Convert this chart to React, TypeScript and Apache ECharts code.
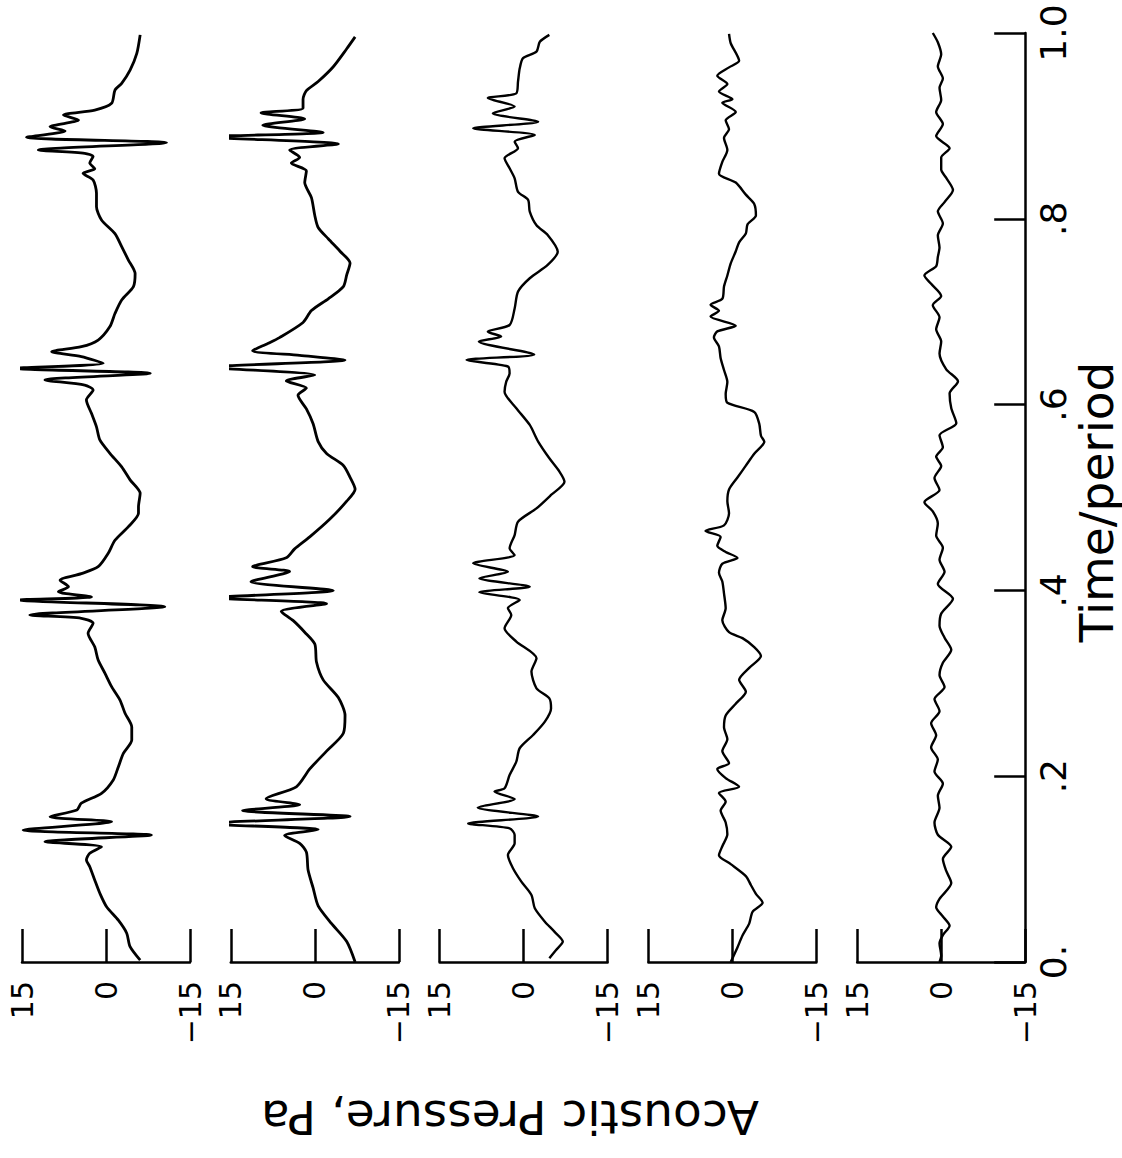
import React, { useEffect, useRef } from "react";
import * as echarts from "echarts";

// [time/period, acoustic pressure Pa] for each of the five stacked traces (top panel first = left)
const trace1: [number, number][] = [
  [0.002,-6.1],[0.0165,-4.3],[0.031,-3.7],[0.045,-2.2],[0.0595,-0.1],[0.074,1.1],[0.088,2.0],[0.1026,2.9],[0.1098,3.5],[0.117,2.9],[0.124,0.8],[0.1295,10.9],[0.1367,-8.1],[0.142,14.8],[0.151,-1.0],[0.1564,10.0],[0.1636,5.2],[0.171,4.4],[0.1816,0.8],[0.196,-1.3],[0.21,-2.2],[0.2246,-3.1],[0.239,-4.6],[0.253,-4.6],[0.2677,-3.4],[0.282,-2.5],[0.2964,-1.0],[0.311,0.2],[0.325,1.4],[0.339,2.0],[0.354,3.2],[0.3646,2.3],[0.37,4.4],[0.3735,13.6],[0.3825,-10.5],[0.3897,15.7],[0.393,2.6],[0.3986,8.5],[0.404,6.7],[0.411,8.2],[0.418,4.4],[0.4255,1.4],[0.44,-0.4],[0.454,-1.6],[0.4686,-4.0],[0.483,-5.8],[0.49,-5.8],[0.5045,-6.1],[0.519,-4.3],[0.533,-2.8],[0.5476,-0.7],[0.562,1.1],[0.576,1.7],[0.5906,2.6],[0.605,3.5],[0.6157,2.3],[0.621,3.8],[0.6265,10.9],[0.6337,-7.9],[0.639,16.3],[0.6444,0.5],[0.6516,4.4],[0.657,9.7],[0.6623,4.4],[0.6695,1.4],[0.684,-0.7],[0.698,-1.6],[0.7126,-2.8],[0.727,-4.9],[0.741,-5.2],[0.7556,-4.0],[0.77,-2.8],[0.784,-1.6],[0.7987,0.8],[0.813,1.7],[0.8275,1.7],[0.8418,2.3],[0.849,4.1],[0.854,2.0],[0.86,2.9],[0.867,2.3],[0.8705,3.8],[0.874,12.1],[0.882,-10.8],[0.8877,14.2],[0.8945,7.3],[0.899,10.0],[0.9063,4.9],[0.9117,7.6],[0.917,2.0],[0.9243,-1.0],[0.9386,-1.6],[0.9458,-2.8],[0.96,-4.3],[0.978,-5.5],[0.998,-6.1]
];
const trace2: [number, number][] = [
  [0.0,-7.2],[0.022,-5.7],[0.0413,-3.0],[0.0605,-0.6],[0.0797,0.3],[0.099,1.2],[0.1182,1.5],[0.1278,2.7],[0.1361,5.4],[0.1425,-0.6],[0.1489,19.2],[0.1566,-6.3],[0.163,12.9],[0.1694,2.7],[0.1758,8.7],[0.1886,3.3],[0.2078,0.9],[0.227,-2.1],[0.2462,-5.1],[0.2654,-5.4],[0.2846,-4.2],[0.3037,-1.5],[0.3229,-0.3],[0.3422,0],[0.355,1.8],[0.3677,3.9],[0.3774,6.0],[0.3857,-2.1],[0.392,18.0],[0.3998,-3.3],[0.4094,11.4],[0.4204,4.5],[0.4255,11.1],[0.4351,5.1],[0.4447,3.6],[0.4576,0.9],[0.4768,-2.7],[0.496,-5.7],[0.5089,-7.2],[0.5217,-6.3],[0.5345,-5.1],[0.5474,-2.1],[0.5602,-0.6],[0.5794,0.3],[0.5953,1.5],[0.61,3.0],[0.6178,1.5],[0.6255,5.1],[0.6319,0],[0.6402,18.3],[0.6479,-5.4],[0.653,2.7],[0.658,11.1],[0.6657,8.4],[0.6721,6.3],[0.6884,2.1],[0.7012,0.6],[0.7139,-2.4],[0.727,-5.1],[0.7396,-5.7],[0.7524,-6.3],[0.7651,-4.5],[0.7785,-2.4],[0.7907,-0.6],[0.8036,0],[0.8228,0.6],[0.839,1.8],[0.8515,1.5],[0.86,4.2],[0.866,2.7],[0.874,4.5],[0.8805,-4.2],[0.8882,19.2],[0.893,-1.5],[0.9008,9.3],[0.9075,1.8],[0.914,9.6],[0.919,2.1],[0.9285,2.1],[0.938,1.5],[0.9478,-0.6],[0.9637,-3.3],[0.983,-5.7],[0.9958,-7.2]
];
const trace3: [number, number][] = [
  [0.004,-4.6],[0.013,-5.8],[0.022,-7.0],[0.0327,-5.5],[0.0434,-3.8],[0.0578,-2.0],[0.0722,-1.4],[0.0865,0.4],[0.1009,1.9],[0.1152,2.8],[0.1278,1.6],[0.1367,1.6],[0.1439,2.5],[0.1492,9.9],[0.1565,-2.6],[0.1662,8.2],[0.1754,1.6],[0.1834,5.2],[0.187,3.4],[0.2013,2.5],[0.2157,1.3],[0.2301,0.7],[0.2444,-1.7],[0.2588,-3.8],[0.273,-4.9],[0.2838,-4.6],[0.2946,-2.3],[0.3126,-1.4],[0.3269,-2.3],[0.3449,1.3],[0.3592,3.4],[0.3736,2.2],[0.3808,2.8],[0.3897,0.7],[0.398,7.9],[0.404,-1.1],[0.413,7.9],[0.42,2.8],[0.4291,9.0],[0.438,1.6],[0.4453,2.5],[0.4596,1.6],[0.474,1.0],[0.4883,-2.3],[0.5027,-4.9],
  [0.517,-7.3],[0.5279,-6.4],[0.5422,-4.6],[0.5602,-2.6],[0.5781,-1.1],[0.5961,1.3],[0.6139,3.4],[0.6247,3.1],[0.6336,2.5],[0.641,2.8],[0.648,10.2],[0.654,-1.9],[0.6678,8.0],[0.6733,4.0],[0.6785,6.4],[0.6857,2.5],[0.7035,1.6],[0.7216,1.0],[0.736,-1.1],[0.7503,-4.3],[0.7646,-6.1],[0.7826,-4.3],[0.793,-2.3],[0.8077,-1.1],[0.8204,-0.8],[0.829,1.0],[0.8436,1.6],[0.8544,2.5],[0.8651,3.4],[0.876,1.0],[0.883,1.6],[0.8903,-2.0],[0.8974,9.0],[0.9045,-2.6],[0.9135,5.5],[0.9209,1.6],[0.93,6.4],[0.935,1.3],[0.9476,1.0],[0.9617,0.7],[0.973,0.1],[0.98,-2.3],[0.9906,-2.9],[0.998,-4.6]
];
const trace4: [number, number][] = [
  [0.0,0.3],[0.0157,-0.9],[0.0285,-1.8],[0.0413,-3.0],[0.054,-3.6],[0.0637,-5.4],[0.0733,-4.2],[0.0829,-3.3],[0.0925,-2.4],[0.1054,0.3],[0.115,2.4],[0.1246,1.8],[0.1374,0.9],[0.1502,1.2],[0.163,2.1],[0.1726,1.2],[0.182,2.4],[0.1886,-1.2],[0.198,1.2],[0.2078,2.7],[0.214,0.6],[0.227,1.8],[0.2398,0.9],[0.2526,1.5],[0.2654,1.2],[0.278,-0.6],[0.291,-2.4],[0.3037,-1.2],[0.3166,-3.0],[0.3294,-5.1],[0.339,-3.9],[0.3486,-1.8],[0.355,0.6],[0.3678,1.8],[0.3807,1.2],[0.3967,1.5],[0.4095,1.8],[0.419,2.4],[0.4287,1.8],[0.435,-0.9],[0.4414,1.2],[0.448,2.7],[0.4575,2.1],[0.464,4.8],[0.47,1.5],[0.483,0.6],[0.496,0.9],[0.5087,0.6],[0.5215,-0.9],[0.5343,-2.4],[0.5471,-3.9],[0.56,-5.7],[0.5665,-5.1],[0.5793,-4.8],[0.5921,-3.9],[0.602,0.9],[0.6115,1.2],[0.6243,0.9],[0.6372,1.5],[0.65,2.1],[0.6627,2.4],[0.6723,3.3],[0.6788,2.7],[0.685,-0.6],[0.6948,3.9],[0.701,2.4],[0.7075,3.9],[0.7139,1.8],[0.727,1.5],[0.739,0.9],[0.752,0.3],[0.765,-0.6],[0.7747,-1.2],[0.7842,-2.4],[0.794,-2.7],[0.8036,-4.2],[0.816,-3.9],[0.826,-2.4],[0.839,-0.6],[0.8486,2.4],[0.8612,1.8],[0.8741,0.9],[0.887,1.5],[0.8964,0.6],[0.906,1.2],[0.915,-0.6],[0.925,1.8],[0.9286,0],[0.937,2.4],[0.945,0.9],[0.954,2.7],[0.963,0.6],[0.97,-1.2],[0.989,0.3],[0.999,0.6]
];
const trace5: [number, number][] = [
  [0.0,0.3],[0.007,0],[0.02,0.3],[0.029,-0.3],[0.039,-1.5],[0.049,-0.3],[0.059,0.9],[0.068,0.3],[0.085,-1.8],[0.098,-0.9],[0.111,-0.3],[0.124,-1.8],[0.137,0.6],[0.15,1.2],[0.166,0.3],[0.179,0.6],[0.192,-0.3],[0.205,1.2],[0.218,0.6],[0.231,1.8],[0.244,0.9],[0.257,1.8],[0.27,0.3],[0.283,1.2],[0.296,-0.6],[0.309,0.3],[0.322,-0.3],[0.336,-1.8],[0.349,-0.6],[0.362,0.3],[0.375,0],[0.391,-2.1],[0.407,0.6],[0.42,-0.6],[0.433,0.3],[0.446,-0.3],[0.459,0.9],[0.472,0.6],[0.485,1.5],[0.495,3.0],[0.508,0.3],[0.521,1.2],[0.534,0],[0.544,0.9],[0.554,-0.3],[0.567,0.3],[0.58,-2.7],[0.596,-1.8],[0.612,-1.5],[0.625,-3.0],[0.638,-0.9],[0.655,0.3],[0.668,0],[0.681,0.9],[0.694,0.3],[0.707,1.5],[0.717,0],[0.73,1.8],[0.739,3.0],[0.749,0.9],[0.759,0.6],[0.769,0.3],[0.782,0.6],[0.795,-0.3],[0.808,0.6],[0.818,-0.6],[0.831,-2.1],[0.844,-0.9],[0.853,0],[0.866,0],[0.876,-1.5],[0.889,0.9],[0.902,-0.3],[0.915,0.9],[0.928,0],[0.941,0.3],[0.951,-0.3],[0.964,0.6],[0.977,0],[0.99,0.6],[1.0,1.5]
];

const traces = [trace1, trace2, trace3, trace4, trace5];
const pressureTicks = [-15, 0, 15];
const timeTickLabels = ["0.", ".2", ".4", ".6", ".8", "1.0"];
const timeTitle = "Time/period";
const pressureTitle = "Acoustic Pressure, Pa";

const FONT = "DejaVu Sans";
const PANEL_LEFT0 = 22;
const PANEL_STEP = 208.8;
const PANEL_W = 168;
const PLOT_TOP = 33;
const PLOT_H = 929;

export default function App() {
  const ref = useRef<HTMLDivElement>(null);
  useEffect(() => {
    if (!ref.current) return;
    const chart = echarts.init(ref.current, undefined, { renderer: "svg" });
    const n = traces.length;
    const grids = traces.map((_, k) => ({
      left: PANEL_LEFT0 + PANEL_STEP * k,
      top: PLOT_TOP,
      width: PANEL_W,
      height: PLOT_H,
    }));
    const xAxes = traces.map((_, k) => ({
      gridIndex: k,
      type: "value",
      min: pressureTicks[0],
      max: pressureTicks[pressureTicks.length - 1],
      interval: 15,
      inverse: true,
      position: "bottom",
      axisLine: { show: true, onZero: false, lineStyle: { color: "#000", width: 2.5 } },
      axisTick: { show: true, inside: true, length: 33, lineStyle: { color: "#000", width: 2.5 } },
      axisLabel: {
        show: true,
        rotate: 90,
        margin: 19,
        fontSize: 30,
        fontFamily: FONT,
        color: "#000",
        formatter: (v: number) => (v < 0 ? "\u2212" + Math.abs(v) : String(v)),
      },
      splitLine: { show: false },
    }));
    const yAxes = traces.map((_, k) =>
      k < n - 1
        ? { gridIndex: k, type: "value", min: 0, max: 1, show: false }
        : {
            gridIndex: k,
            type: "value",
            min: 0,
            max: 1,
            interval: 0.2,
            position: "right",
            axisLine: { show: true, onZero: false, lineStyle: { color: "#000", width: 2.5 } },
            axisTick: { show: true, inside: true, length: 31, lineStyle: { color: "#000", width: 2.5 } },
            axisLabel: {
              show: true,
              rotate: 90,
              margin: 10,
              fontSize: 36,
              fontFamily: FONT,
              color: "#000",
              formatter: (v: number) => timeTickLabels[Math.round(v * 5)] ?? "",
            },
            splitLine: { show: false },
          }
    );
    const series = traces.map((tr, k) => ({
      type: "line",
      xAxisIndex: k,
      yAxisIndex: k,
      data: tr.map(([t, p]) => [p, t]),
      showSymbol: false,
      symbol: "none",
      smooth: 0.25,
      clip: false,
      lineStyle: { color: "#000", width: k < 2 ? 2.8 : 2.4 },
      silent: true,
    }));
    chart.setOption({
      animation: false,
      backgroundColor: "#fff",
      grid: grids,
      xAxis: xAxes,
      yAxis: yAxes,
      series,
      graphic: [
        {
          type: "text",
          x: 1096,
          y: 502,
          rotation: Math.PI / 2,
          style: {
            text: timeTitle,
            fontSize: 47,
            fontFamily: FONT,
            fill: "#000",
            align: "center",
            verticalAlign: "middle",
            textAlign: "center",
            textVerticalAlign: "middle",
          },
        },
        {
          type: "text",
          x: 510,
          y: 1117,
          rotation: Math.PI,
          style: {
            text: pressureTitle,
            fontSize: 47,
            fontFamily: FONT,
            fill: "#000",
            align: "center",
            verticalAlign: "middle",
            textAlign: "center",
            textVerticalAlign: "middle",
          },
        },
      ],
    });
    return () => chart.dispose();
  }, []);
  return (
    <div
      ref={ref}
      style={{ position: "absolute", left: 0, top: 0, width: 1122, height: 1158, background: "#fff" }}
    />
  );
}
